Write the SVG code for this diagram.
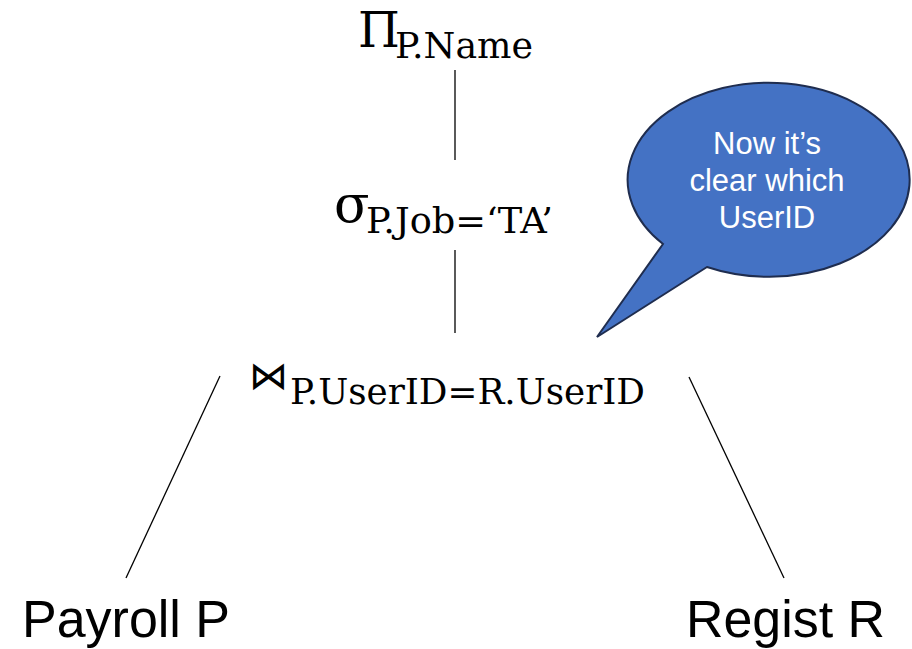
<svg xmlns="http://www.w3.org/2000/svg" width="912" height="649" viewBox="0 0 912 649">
<style>
.m{font-family:"DejaVu Serif","Liberation Serif",serif;fill:#000}
.s{font-family:"Liberation Sans",Arial,sans-serif;fill:#000}
.e{stroke:#000;stroke-width:1.3;fill:none}
.b{font-family:"Liberation Sans",Arial,sans-serif;fill:#fff;font-size:31px;text-anchor:middle}
</style>
<rect width="912" height="649" fill="#fff"/>
<g id="connectors">
<line class="e" x1="455" y1="70" x2="455" y2="160"/>
<line class="e" x1="455" y1="250" x2="455" y2="333"/>
<line class="e" x1="220" y1="376" x2="126" y2="578"/>
<line class="e" x1="689" y1="377" x2="784" y2="578"/>
</g>
<g id="project">
<text class="m" x="358" y="47" font-size="48">Π</text>
<text class="m" x="395" y="58" font-size="35" textLength="138" lengthAdjust="spacingAndGlyphs">P.Name</text>
</g>
<g id="select">
<text class="m" x="334" y="222" font-size="52">σ</text>
<text class="m" x="366" y="233" font-size="35" textLength="187" lengthAdjust="spacingAndGlyphs">P.Job=‘TA’</text>
</g>
<g id="join">
<text x="249" y="389" font-size="39" font-family="DejaVu Sans,sans-serif" fill="#000">⋈</text>
<text class="m" x="290" y="404" font-size="35" textLength="355" lengthAdjust="spacingAndGlyphs">P.UserID=R.UserID</text>
</g>
<g id="payroll">
<text class="s" x="22" y="637" font-size="51" textLength="208" lengthAdjust="spacingAndGlyphs">Payroll P</text>
</g>
<g id="regist">
<text class="s" x="686" y="637" font-size="51" textLength="199" lengthAdjust="spacingAndGlyphs">Regist R</text>
</g>
<g id="callout">
<path d="M663,244 L597,337 L707,267 A141,97 0 1 0 663,244 Z" fill="#4472C4" stroke="#1F2D4F" stroke-width="2"/>
<text class="b" x="767" y="154">Now it’s</text>
<text class="b" x="767" y="191">clear which</text>
<text class="b" x="767" y="228">UserID</text>
</g>
</svg>
